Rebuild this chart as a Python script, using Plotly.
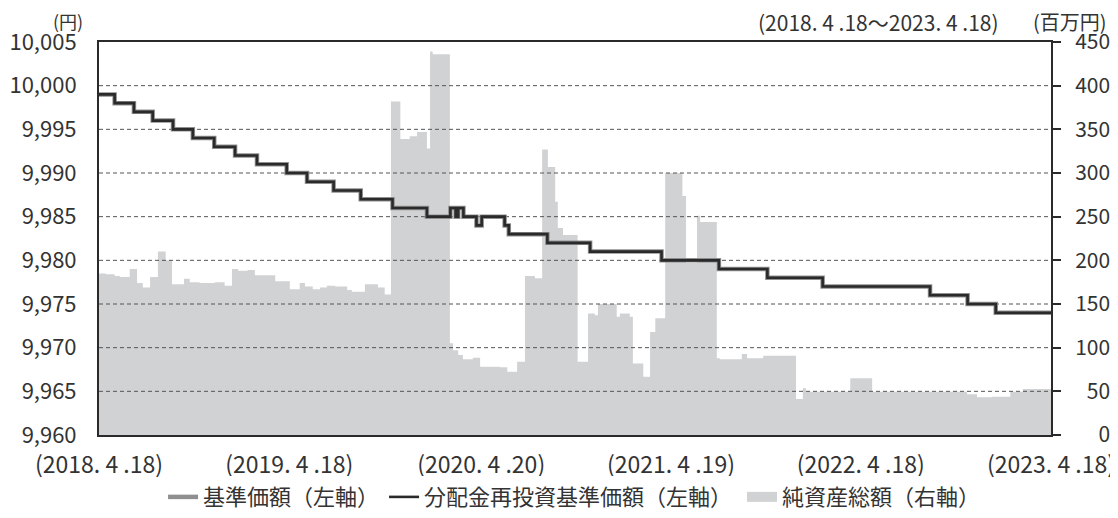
import plotly.graph_objects as go

# ---- data ----
nav_dates = ["2018-04-18", "2018-05-18", "2018-06-24", "2018-07-30", "2018-09-07", "2018-10-15",
             "2018-11-25", "2019-01-04", "2019-02-15", "2019-04-13", "2019-05-22", "2019-07-12",
             "2019-09-02", "2019-11-02", "2020-01-07", "2020-02-21", "2020-03-02", "2020-03-07",
             "2020-03-17", "2020-04-11", "2020-04-21", "2020-06-04", "2020-06-12", "2020-08-25",
             "2020-11-15", "2021-04-01", "2021-07-20", "2021-10-21", "2022-02-04", "2022-08-29",
             "2022-11-09", "2023-01-02", "2023-04-18"]
nav_values = [9999, 9998, 9997, 9996, 9995, 9994,
              9993, 9992, 9991, 9990, 9989, 9988,
              9987, 9986, 9985, 9986, 9985, 9986,
              9985, 9984, 9985, 9984, 9983, 9982,
              9981, 9980, 9979, 9978, 9977, 9976,
              9975, 9974, 9974]

asset_dates = ["2018-04-18", "2018-05-01", "2018-05-18", "2018-05-28", "2018-06-16", "2018-06-30",
               "2018-07-11", "2018-07-25", "2018-08-09", "2018-08-24", "2018-09-05", "2018-09-28",
               "2018-10-09", "2018-10-28", "2018-11-26", "2018-12-15", "2018-12-29", "2019-01-10",
               "2019-01-28", "2019-02-11", "2019-03-22", "2019-04-19", "2019-05-08", "2019-05-18",
               "2019-06-02", "2019-06-16", "2019-06-29", "2019-07-15", "2019-08-07", "2019-08-16",
               "2019-09-10", "2019-10-05", "2019-10-18", "2019-10-30", "2019-11-17", "2019-12-05",
               "2019-12-19", "2020-01-07", "2020-01-13", "2020-01-18", "2020-02-20", "2020-02-26",
               "2020-03-07", "2020-03-16", "2020-04-04", "2020-04-18", "2020-05-26", "2020-06-09",
               "2020-06-28", "2020-07-13", "2020-08-01", "2020-08-15", "2020-08-26", "2020-09-09",
               "2020-09-14", "2020-09-24", "2020-10-22", "2020-11-11", "2020-11-24", "2020-11-30",
               "2021-01-05", "2021-01-11", "2021-01-30", "2021-02-05", "2021-02-25", "2021-03-10",
               "2021-03-20", "2021-04-08", "2021-05-11", "2021-05-18", "2021-06-08", "2021-06-14",
               "2021-07-16", "2021-07-22", "2021-09-02", "2021-09-12", "2021-10-13", "2021-12-15",
               "2021-12-28", "2022-01-03", "2022-03-29", "2022-05-10", "2022-11-08", "2022-11-27",
               "2022-12-26", "2023-01-30", "2023-02-23", "2023-04-18"]
asset_values = [185, 184, 182, 181, 190, 174,
                169, 181, 210, 200, 172.5, 179,
                175, 174, 175, 171, 190, 188,
                189, 183, 176, 167, 174, 170,
                167, 169, 171, 170, 166, 164,
                172.5, 169, 161, 382, 339, 342,
                347, 328, 439, 436, 105, 97,
                91.6, 86.7, 88.5, 78.2, 77.5, 72.5,
                84, 182, 179.4, 327, 307, 267,
                237, 229, 84, 139, 137, 150,
                135.5, 139, 135.5, 82, 66.8, 118,
                133.6, 300, 273.7, 197, 251, 244,
                87.8, 86.7, 92.7, 87.8, 90.8, 41.2,
                53.4, 49.6, 65, 49.6, 46.6, 43.2,
                43.9, 49.6, 52.7, 52.7]

x_range = ["2018-04-18", "2023-04-18"]
x_tick_dates = ["2018-04-18", "2019-04-18", "2020-04-20", "2021-04-19", "2022-04-18", "2023-04-18"]
x_tick_labels = ["(2018. 4 .18)", "(2019. 4 .18)", "(2020. 4 .20)", "(2021. 4 .19)",
                 "(2022. 4 .18)", "(2023. 4 .18)"]
left_ticks = [9960, 9965, 9970, 9975, 9980, 9985, 9990, 9995, 10000, 10005]
right_ticks = [0, 50, 100, 150, 200, 250, 300, 350, 400, 450]

FONT = "Noto Sans CJK JP"
TXT = "#333333"
AREA = "#d1d2d4"
NB = "\u00a0"
FIG_SP = "\u2007"

# right-aligned right-axis labels (padded with digit-width spaces)
right_labels = [FIG_SP * (3 - len(str(v))) + str(v) for v in right_ticks]

fig = go.Figure()

# net assets area (primary y, right side)
fig.add_trace(go.Scatter(
    x=asset_dates, y=asset_values, mode="lines", line=dict(width=0, shape="hv"),
    fill="tozeroy", fillcolor=AREA, showlegend=False, hoverinfo="skip", yaxis="y"))

# dashed grid lines drawn above the area, below the NAV lines
gx, gy = [], []
for v in right_ticks[1:-1]:
    gx += [x_range[0], x_range[1], None]
    gy += [v, v, None]
fig.add_trace(go.Scatter(x=gx, y=gy, mode="lines",
                         line=dict(color="#555555", width=1, dash="4px,3px"),
                         showlegend=False, hoverinfo="skip", yaxis="y"))

# NAV lines (overlay y2, left side)
fig.add_trace(go.Scatter(
    x=nav_dates, y=nav_values, mode="lines", name="基準価額（左軸）",
    line=dict(color="#8f8f8f", width=4.5, shape="hv"), yaxis="y2", legendrank=1))
fig.add_trace(go.Scatter(
    x=nav_dates, y=nav_values, mode="lines", name="分配金再投資基準価額（左軸）" + NB,
    line=dict(color="#2a2a2a", width=2.6, shape="hv"), yaxis="y2", legendrank=2))
# legend entry for the area
fig.add_trace(go.Scatter(
    x=[None], y=[None], mode="lines", name="純資産総額（右軸）",
    line=dict(color=AREA, width=15), yaxis="y", legendrank=3))

# the page body adds an 8px offset, so the figure is sized to fit the window
fig.update_layout(
    width=1110, height=510,
    margin=dict(l=91, r=67, t=34, b=83, autoexpand=False),
    paper_bgcolor="white", plot_bgcolor="white",
    font=dict(family=FONT, color=TXT, size=20),
    showlegend=True,
    legend=dict(orientation="h", x=0.499, xanchor="center", y=-0.158, yanchor="middle",
                font=dict(size=22, color=TXT), traceorder="normal", itemwidth=30),
    xaxis=dict(type="date", range=x_range, tickvals=x_tick_dates, ticktext=x_tick_labels,
               showgrid=False, zeroline=False, showline=True, linecolor="#2a2a2a",
               linewidth=2, mirror=True, ticks="", tickfont=dict(size=23),
               ticklabelstandoff=8, automargin=False),
    yaxis=dict(side="right", range=[0, 450], tickvals=right_ticks, ticktext=right_labels,
               showgrid=False, zeroline=False, showline=True, linecolor="#2a2a2a",
               linewidth=2, ticks="outside", ticklen=8, tickwidth=2, tickcolor="#2a2a2a",
               tickfont=dict(size=21), ticklabelstandoff=10, automargin=False),
    yaxis2=dict(side="left", overlaying="y", range=[9960, 10005], tickvals=left_ticks,
                tickformat=",d", showgrid=False, zeroline=False, showline=True,
                linecolor="#2a2a2a", linewidth=2, ticks="", tickfont=dict(size=22),
                ticklabelstandoff=16, automargin=False),
    annotations=[
        dict(text="(円)", xref="paper", yref="paper", x=-0.0158, y=1.054,
             xanchor="right", yanchor="middle", showarrow=False, font=dict(size=18),
             borderpad=0),
        dict(text="(2018. 4 .18～2023. 4 .18)", xref="paper", yref="paper", x=0.9464, y=1.052,
             xanchor="right", yanchor="middle", showarrow=False, font=dict(size=21),
             borderpad=0),
        dict(text="(百万円)", xref="paper", yref="paper", x=1.0599, y=1.052,
             xanchor="right", yanchor="middle", showarrow=False, font=dict(size=20),
             borderpad=0),
    ],
)

fig.write_html("out.html")
